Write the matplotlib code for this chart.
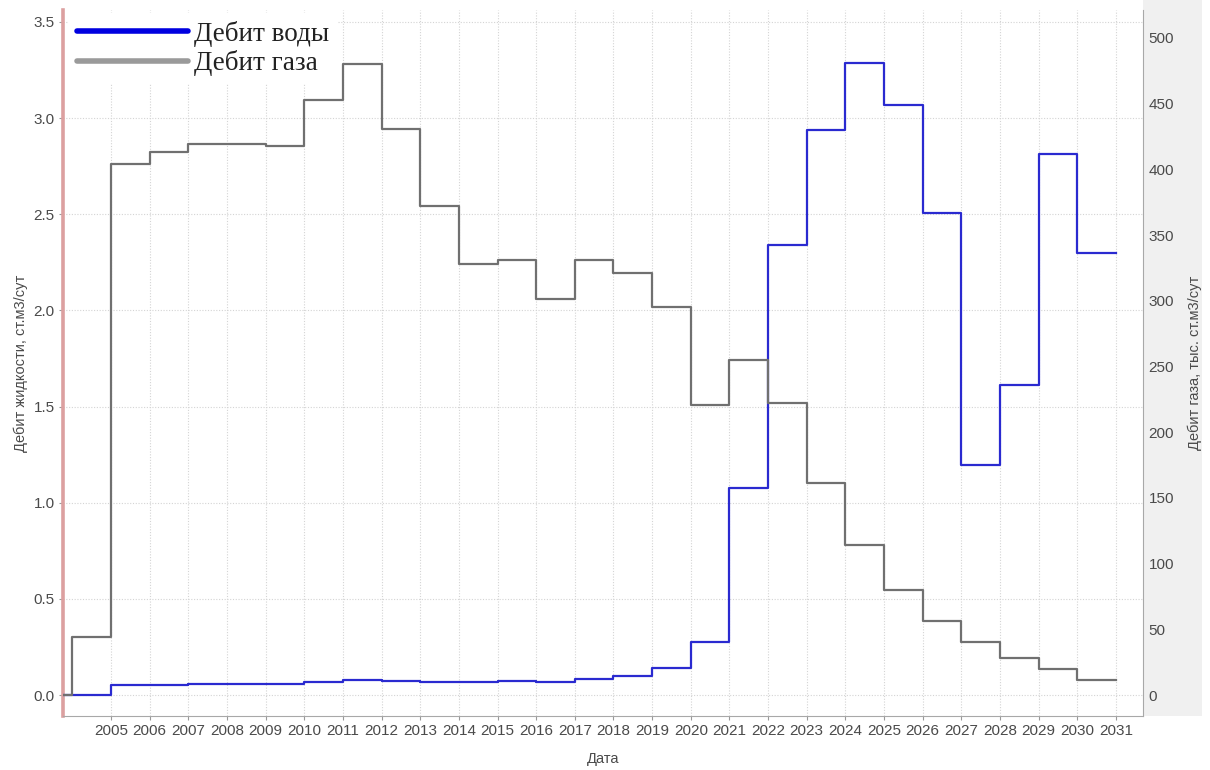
import matplotlib
matplotlib.use("Agg")
import matplotlib.pyplot as plt
from matplotlib.lines import Line2D
from matplotlib.patches import Rectangle

# Annual rates; each value holds from 1 January of its year until the next year
years = [2003, 2004, 2005, 2006, 2007, 2008, 2009, 2010, 2011, 2012, 2013,
         2014, 2015, 2016, 2017, 2018, 2019, 2020, 2021, 2022, 2023, 2024,
         2025, 2026, 2027, 2028, 2029, 2030]
end_year = 2031

# Water rate, st.m3/day (left axis)
water = [0.0, 0.0, 0.05, 0.05, 0.055, 0.057, 0.06, 0.068, 0.08, 0.074, 0.066,
         0.066, 0.074, 0.066, 0.085, 0.10, 0.14, 0.276, 1.075, 2.34, 2.94, 3.285,
         3.07, 2.505, 1.196, 1.612, 2.813, 2.297]

# Gas rate, thousand st.m3/day (right axis)
gas = [0.0, 44, 404, 413, 419, 419, 418, 453, 480, 431, 372,
       328, 331, 301, 331, 321, 295, 221, 255, 222.5, 161, 114,
       80, 56.5, 40, 28, 20, 11.4]

tick_years = list(range(2005, 2032))
left_ticks = [0.0, 0.5, 1.0, 1.5, 2.0, 2.5, 3.0, 3.5]
right_ticks = [0, 50, 100, 150, 200, 250, 300, 350, 400, 450, 500]

W, H = 1210, 770
fig = plt.figure(figsize=(W / 100, H / 100), dpi=100)
fig.patch.set_facecolor("white")

ax_l, ax_r, ax_t, ax_b = 63, 1143, 10, 716

# light panel behind the right-hand scale
fig.add_artist(Rectangle((ax_r / W, 1 - ax_b / H), (1202 - ax_r) / W, ax_b / H,
                         transform=fig.transFigure, facecolor="#f0f0f0",
                         edgecolor="none", zorder=-5))

ax = fig.add_axes([ax_l / W, 1 - ax_b / H, (ax_r - ax_l) / W, (ax_b - ax_t) / H])
ax.patch.set_alpha(0.0)

label_font = "Liberation Sans"
tick_color = "#4a4a4a"

xs = years + [end_year]
ax.plot(xs, water + [water[-1]], drawstyle="steps-post", color="#2a2ad0", lw=1.6, zorder=3)

ax.set_xlim(2003.758, 2031.70)
ax.set_ylim(-0.109, 3.5624)
ax.set_xticks(tick_years)
ax.set_xticklabels([str(y) for y in tick_years], fontfamily=label_font,
                   fontsize=11, color=tick_color)
ax.set_yticks(left_ticks)
ax.set_yticklabels([f"{v:.1f}" for v in left_ticks], fontfamily=label_font,
                   fontsize=11, color=tick_color)
ax.tick_params(axis="both", length=3, color="#999999", pad=3)
ax.grid(True, color="#d4d4d4", linestyle=(0, (1, 1.5)), linewidth=0.8)
ax.set_axisbelow(True)

ax.spines["top"].set_visible(False)
ax.spines["left"].set_color("#dca0a0")
ax.spines["left"].set_linewidth(2.6)
ax.spines["bottom"].set_color("#a8a8a8")
ax.spines["right"].set_visible(False)

ax.set_xlabel("Дата", fontfamily=label_font, fontsize=10.5, color=tick_color, labelpad=10)
ax.set_ylabel("Дебит жидкости, ст.м3/сут", fontfamily=label_font, fontsize=10.5,
              color=tick_color, labelpad=4)

ax2 = ax.twinx()
ax2.plot(xs, gas + [gas[-1]], drawstyle="steps-post", color="#707070", lw=1.6, zorder=3)
ax2.set_ylim(-15.98, 521.3)
ax2.set_yticks(right_ticks)
ax2.set_yticklabels([str(v) for v in right_ticks], fontfamily=label_font,
                    fontsize=11, color=tick_color)
ax2.tick_params(axis="y", length=0, pad=4)
ax2.spines["top"].set_visible(False)
ax2.spines["left"].set_visible(False)
ax2.spines["bottom"].set_visible(False)
ax2.spines["right"].set_color("#a8a8a8")
ax2.set_ylabel("Дебит газа, тыс. ст.м3/сут", fontfamily=label_font, fontsize=10.5,
               color=tick_color, labelpad=10)

handles = [Line2D([], [], color="#0000e0", lw=4.0, solid_capstyle="round"),
           Line2D([], [], color="#9a9a9a", lw=4.0, solid_capstyle="round")]
leg = ax2.legend(handles, ["Дебит воды", "Дебит газа"], loc="upper left",
                 bbox_to_anchor=(0.005, 0.996), borderaxespad=0.0, borderpad=0.3,
                 prop={"family": "Liberation Serif", "size": 19.5},
                 handlelength=4.1, handletextpad=0.25, labelspacing=0.12,
                 frameon=True, fancybox=False, framealpha=1.0)
leg.get_frame().set_edgecolor("none")
leg.get_frame().set_facecolor("white")
for t in leg.get_texts():
    t.set_color("#222222")

fig.savefig("out.png", dpi=100, facecolor="white")
